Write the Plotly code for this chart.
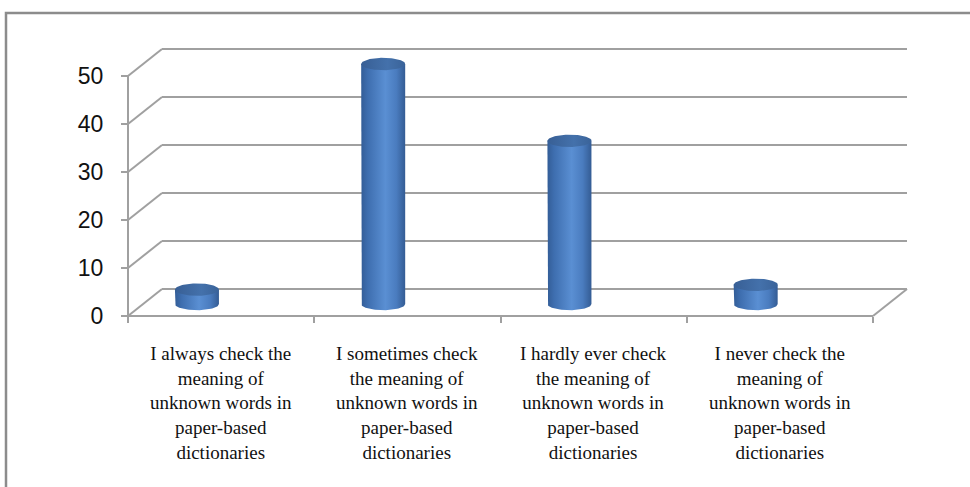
import numpy as np
import plotly.graph_objects as go

# ---- data ----
categories = [
    "I always check the<br>meaning of<br>unknown words in<br>paper-based<br>dictionaries",
    "I sometimes check<br>the meaning of<br>unknown words in<br>paper-based<br>dictionaries",
    "I hardly ever check<br>the meaning of<br>unknown words in<br>paper-based<br>dictionaries",
    "I never check the<br>meaning of<br>unknown words in<br>paper-based<br>dictionaries",
]
values = [3, 50, 34, 4]
y_ticks = [0, 10, 20, 30, 40, 50]

# ---- geometry of the oblique 3-D box (in axis units) ----
W, H = 970, 487
PX_PER_CAT = 186.25           # pixels per category slot
PX_PER_VAL = 4.8              # pixels per value unit
X0_PX, Y0_PX = 128, 316       # pixel position of the front-left origin
DX = 34 / PX_PER_CAT          # depth offset along x
DY = 27 / PX_PER_VAL          # depth offset along y
XMIN, XMAX = -X0_PX / PX_PER_CAT, (W - X0_PX) / PX_PER_CAT
YMIN, YMAX = (Y0_PX - H) / PX_PER_VAL, Y0_PX / PX_PER_VAL

BAR_DEPTH = 0.444             # fraction of the depth where bars stand
BAR_POS = 0.289               # bar centre inside its slot (front plane)
R_X = 22 / PX_PER_CAT         # cylinder radius along x
R_Y = 6.2 / PX_PER_VAL        # ellipse half-height

GRID = "#a0a0a0"
n = len(categories)

shapes = []


def seg(x0, y0, x1, y1, color=GRID, width=2):
    shapes.append(dict(type="line", xref="x", yref="y", x0=x0, y0=y0, x1=x1, y1=y1,
                       line=dict(color=color, width=width), layer="below"))


# back wall gridlines and side-wall diagonals
for v in y_ticks:
    seg(DX, v + DY, n + DX, v + DY)
    seg(0, v, DX, v + DY)
# floor front edge, right floor edge, vertical axis line
seg(0, 0, n, 0)
seg(n, 0, n + DX, DY)
seg(0, 0, 0, max(y_ticks))

# outer chart border
shapes.append(dict(type="rect", xref="paper", yref="paper",
                   x0=6 / W, x1=1.05, y0=-0.05, y1=1 - 13 / H,
                   line=dict(color="#8c8c8c", width=2.5), layer="below"))

fig = go.Figure()

body_scale = [[0, "#335d97"], [0.15, "#3e6eaf"], [0.55, "#5a8fd3"],
              [0.8, "#4a7cbf"], [1, "#345c94"]]
top_scale = [[0, "#385f95"], [0.6, "#4471ab"], [1, "#3a6399"]]

t = np.linspace(0, np.pi, 40)
tt = np.linspace(0, 2 * np.pi, 80)
for i, v in enumerate(values):
    cx = i + BAR_POS + BAR_DEPTH * DX
    base = BAR_DEPTH * DY
    top = base + v
    # body: sides plus lower half of the base ellipse
    bx = np.concatenate([[cx - R_X], cx - R_X * np.cos(t), [cx + R_X, cx - R_X]])
    by = np.concatenate([[top], base - R_Y * np.sin(t), [top, top]])
    fig.add_trace(go.Scatter(
        x=bx, y=by, mode="lines", fill="toself", line=dict(width=0),
        fillgradient=dict(type="horizontal", colorscale=body_scale),
        hoverinfo="skip", showlegend=False))
    # top ellipse
    fig.add_trace(go.Scatter(
        x=cx + R_X * np.cos(tt), y=top + R_Y * np.sin(tt), mode="lines",
        fill="toself", line=dict(width=0),
        fillgradient=dict(type="horizontal", colorscale=top_scale),
        hoverinfo="skip", showlegend=False))

# category labels under each slot
for i, c in enumerate(categories):
    fig.add_annotation(x=i + 0.5, y=(Y0_PX - 341) / PX_PER_VAL, xref="x", yref="y",
                       text=c, showarrow=False, yanchor="top", xanchor="center",
                       align="center",
                       font=dict(family="Liberation Serif", size=19, color="#111111"))

fig.update_layout(
    width=W, height=H,
    margin=dict(l=0, r=0, t=0, b=0),
    paper_bgcolor="white", plot_bgcolor="white",
    shapes=shapes,
    xaxis=dict(range=[XMIN, XMAX], showgrid=False, zeroline=False,
               tickvals=list(range(n + 1)), ticks="outside", ticklen=6,
               tickwidth=2, tickcolor=GRID, showticklabels=False,
               showline=False, anchor="free",
               position=(0 - YMIN) / (YMAX - YMIN), fixedrange=True),
    yaxis=dict(range=[YMIN, YMAX], showgrid=False, zeroline=False,
               tickvals=y_ticks, ticks="outside", ticklen=7, tickwidth=2,
               tickcolor=GRID, showline=False, anchor="free",
               position=(0 - XMIN) / (XMAX - XMIN), ticklabelstandoff=13,
               tickfont=dict(family="Liberation Sans", size=23, color="#111111"),
               fixedrange=True),
)

fig.write_html("out.html")
